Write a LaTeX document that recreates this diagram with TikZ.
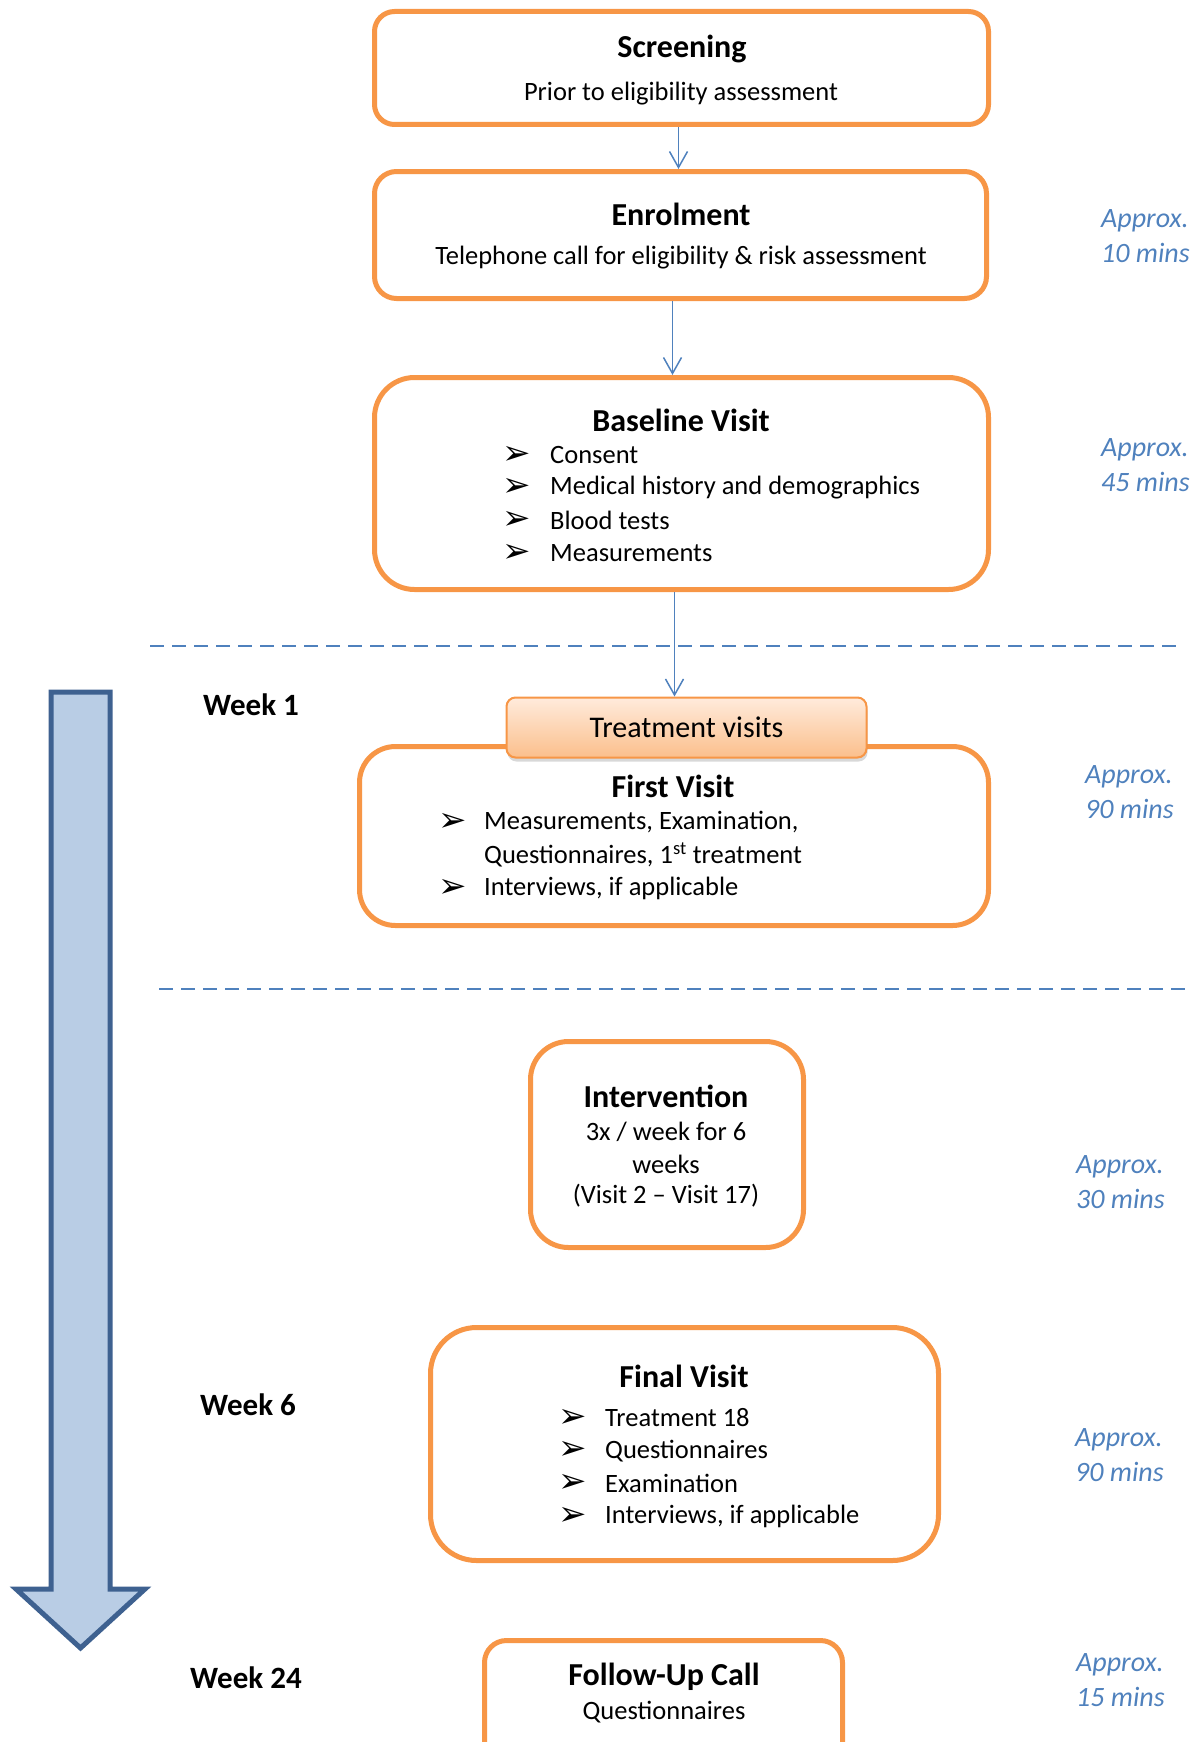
\documentclass[tikz,border=0pt]{standalone}
\usepackage{fontspec}
\setmainfont{Carlito}
\newfontfamily\dingfont{DejaVu Sans}
\usetikzlibrary{arrows.meta, shadows, positioning}

\definecolor{boxorange}{HTML}{F79646}
\definecolor{linkblue}{HTML}{4F81BD}
\definecolor{shaftfill}{HTML}{B9CDE5}
\definecolor{shaftline}{HTML}{3E6190}
\definecolor{tvtop}{HTML}{FFEBDC}
\definecolor{tvbot}{HTML}{FBBF8C}

\begin{document}
\begin{tikzpicture}[x=1pt, y=-1pt,
    stage/.style={draw=boxorange, line width=5pt, fill=white, rounded corners=#1, inner sep=0pt},
    stage/.default=22pt,
    title/.style={font=\fontsize{32}{38}\selectfont\bfseries},
    sub/.style={font=\fontsize{26.5}{33}\selectfont},
    item/.style={font=\fontsize{26.5}{33}\selectfont, anchor=west, inner sep=0pt},
    bul/.style={font=\dingfont\fontsize{34}{40}\selectfont, anchor=west, inner sep=0pt},
    week/.style={font=\fontsize{31}{36}\selectfont\bfseries},
    approx/.style={font=\fontsize{28}{35}\selectfont\itshape, text=linkblue, anchor=west, align=left, inner sep=0pt},
    flow/.style={draw=linkblue, line width=1.5pt, -{Straight Barb[length=16pt, width=18pt]}},
    sep/.style={draw=linkblue, line width=2pt, dash pattern=on 14pt off 8pt}]
  \useasboundingbox (0,0) rectangle (1203,1742);

  % time arrow
  \draw[fill=shaftfill, draw=shaftline, line width=5pt, line join=miter]
    (51,692) -- (110,692) -- (110,1589) -- (145,1589) -- (80.5,1648)
    -- (16,1589) -- (51,1589) -- cycle;

  % separators
  \draw[sep] (150,646) -- (1177,646);
  \draw[sep] (159,989) -- (1186,989);

  % boxes
  \node[stage=20pt, minimum width=614pt, minimum height=113pt] (screen) at (681.5,68) {};
  \node[stage=22pt, minimum width=612pt, minimum height=127pt] (enrol) at (680.5,235) {};
  \node[stage=40pt, minimum width=614pt, minimum height=212pt] (base) at (681.5,483.5) {};
  \node[stage=36pt, minimum width=629pt, minimum height=179pt] (first) at (674,836) {};
  \node[draw=boxorange, line width=2pt, rounded corners=9pt, top color=tvtop, bottom color=tvbot,
        drop shadow={opacity=0.3, shadow xshift=1pt, shadow yshift=-4pt},
        minimum width=360pt, minimum height=60pt, inner sep=0pt,
        font=\fontsize{30}{36}\selectfont] (treat) at (686.5,727.5) {Treatment visits};
  \node[stage=38pt, minimum width=273pt, minimum height=206pt] (interv) at (667,1144.5) {};
  \node[stage=46pt, minimum width=508pt, minimum height=233pt] (final) at (684.5,1444) {};
  \node[stage=22pt, minimum width=358pt, minimum height=140pt] (follow) at (663.5,1710.5) {};

  % connectors
  \draw[flow] ([xshift=-3pt]screen.south) -- ([xshift=-3pt]screen.south |- enrol.north);
  \draw[flow] ([xshift=-8pt]enrol.south) -- ([xshift=-8pt]enrol.south |- base.north);
  \draw[flow] ([xshift=-7pt]base.south) -- ([xshift=-7pt]base.south |- treat.north);

  % texts
  \node[title] (screent) at (682,49) {Screening};
  \node[sub] (screens) at (681,94) {Prior to eligibility assessment};
  \node[title] (enrolt) at (681,214) {Enrolment};
  \node[sub] (enrols) at (681,258) {Telephone call for eligibility \& risk assessment};
  \node[title] (baset) at (681,420) {Baseline Visit};
  \foreach \t [count=\i] in {Consent, Medical history and demographics, Blood tests, Measurements} {
    \node[bul] (bb\i) at (502,{455+32.7*(\i-1)}) {➢};
    \node[item] (bt\i) at (550,{455+32.7*(\i-1)}) {\t};
  }
  \node[title] (firstt) at (673,786) {First Visit};
  \node[bul] (fb1) at (438,822) {➢};
  \node[item] (ft1) at (484,822) {Measurements, Examination,};
  \node[item] (ft2) at (484,855) {Questionnaires, 1\textsuperscript{st} treatment};
  \node[bul] (fb3) at (438,888) {➢};
  \node[item] (ft3) at (484,888) {Interviews, if applicable};
  \node[title] (intervt) at (666,1096) {Intervention};
  \node[sub] (interv1) at (666,1132) {3x / week for 6};
  \node[sub] (interv2) at (666,1164) {weeks};
  \node[sub] (interv3) at (666,1196) {(Visit 2 – Visit 17)};
  \node[title] (finalt) at (684,1376) {Final Visit};
  \foreach \t [count=\i] in {Treatment 18, Questionnaires, Examination, {Interviews, if applicable}} {
    \node[bul] (lb\i) at (558,{1418+32.7*(\i-1)}) {➢};
    \node[item] (lt\i) at (605,{1418+32.7*(\i-1)}) {\t};
  }
  \node[title] (followt) at (664,1677) {Follow-Up Call};
  \node[sub] (follows) at (664,1712) {Questionnaires};

  % weeks
  \node[week] (w1) at (251,705) {Week 1};
  \node[week] (w6) at (248,1405) {Week 6};
  \node[week] (w24) at (246,1678) {Week 24};

  % durations
  \node[approx] (a1) at (1101,236) {Approx.\\10 mins};
  \node[approx] (a2) at (1101,465) {Approx.\\45 mins};
  \node[approx] (a3) at (1085,792) {Approx.\\90 mins};
  \node[approx] (a4) at (1076,1182) {Approx.\\30 mins};
  \node[approx] (a5) at (1075,1455) {Approx.\\90 mins};
  \node[approx] (a6) at (1076,1680) {Approx.\\15 mins};
\end{tikzpicture}
\end{document}
